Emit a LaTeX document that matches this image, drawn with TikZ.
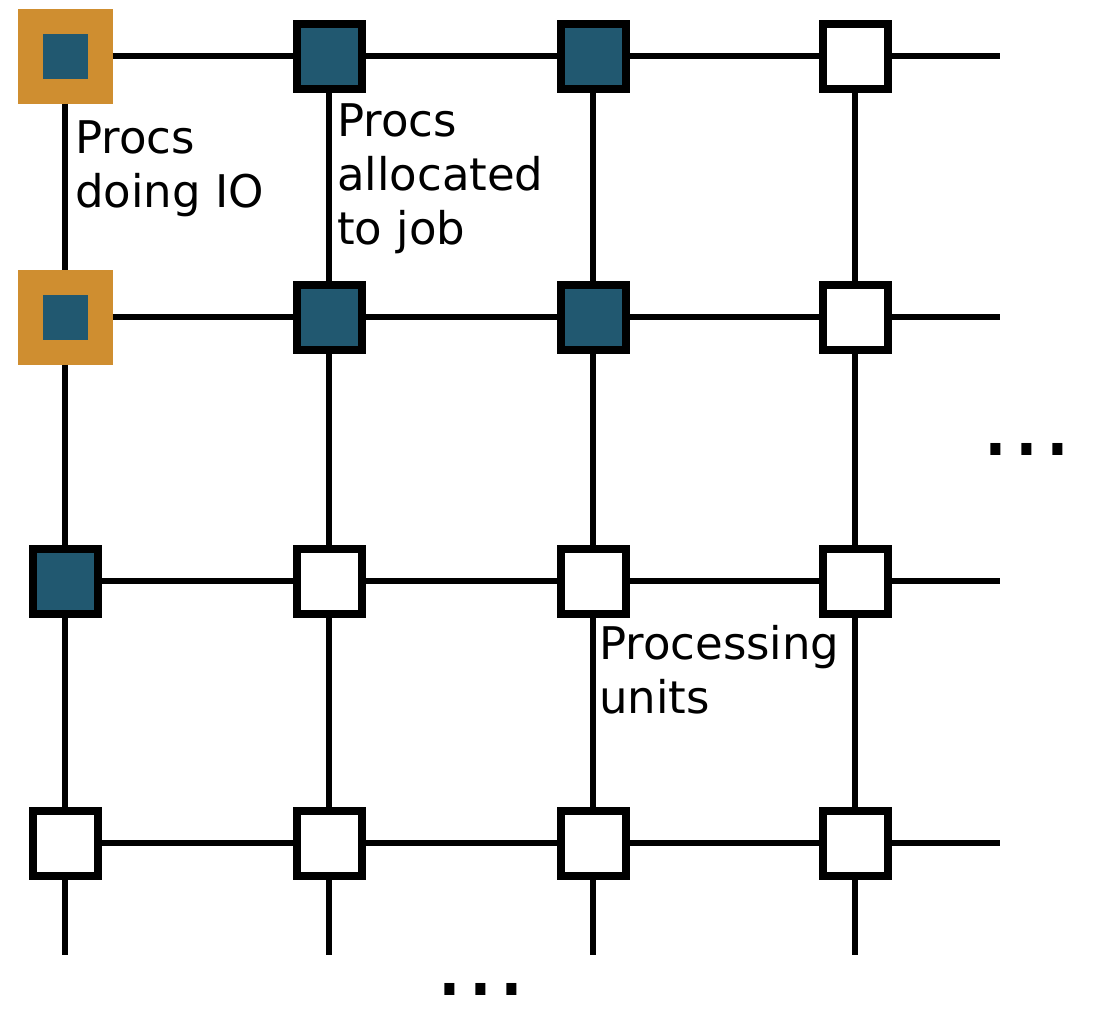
\documentclass[tikz,border=0pt]{standalone}
\usepackage{fontspec}
\setmainfont{DejaVu Sans}
\definecolor{jobblue}{HTML}{215870}
\definecolor{ioorange}{HTML}{CF8E30}
\tikzset{
  proc/.style={rectangle, minimum size=65pt, inner sep=0pt, line width=8pt, draw=black},
  freeproc/.style={proc, fill=white},
  jobproc/.style={proc, fill=jobblue},
  ioproc/.style={rectangle, minimum size=70pt, inner sep=0pt, line width=25pt, draw=ioorange, fill=jobblue},
  link/.style={line width=6pt, draw=black},
  lbl/.style={anchor=north west, inner sep=0pt, align=left, font=\fontsize{45}{54}\selectfont},
  dots/.style={anchor=base west, inner sep=0pt, font=\fontsize{97}{110}\selectfont}
}
\begin{document}
\begin{tikzpicture}[x=1pt,y=-1pt]
\useasboundingbox (0,0) rectangle (1101,1020);
% grid positions
\def\ca{65}\def\cb{329}\def\cc{593}\def\cd{855}
\def\ra{56}\def\rb{317}\def\rc{581}\def\rd{843}
% nodes
\node[ioproc]   (n11) at (\ca,\ra) {};
\node[jobproc]  (n12) at (\cb,\ra) {};
\node[jobproc]  (n13) at (\cc,\ra) {};
\node[freeproc] (n14) at (\cd,\ra) {};
\node[ioproc]   (n21) at (\ca,\rb) {};
\node[jobproc]  (n22) at (\cb,\rb) {};
\node[jobproc]  (n23) at (\cc,\rb) {};
\node[freeproc] (n24) at (\cd,\rb) {};
\node[jobproc]  (n31) at (\ca,\rc) {};
\node[freeproc] (n32) at (\cb,\rc) {};
\node[freeproc] (n33) at (\cc,\rc) {};
\node[freeproc] (n34) at (\cd,\rc) {};
\node[freeproc] (n41) at (\ca,\rd) {};
\node[freeproc] (n42) at (\cb,\rd) {};
\node[freeproc] (n43) at (\cc,\rd) {};
\node[freeproc] (n44) at (\cd,\rd) {};
% free ends
\foreach \r/\y in {1/\ra,2/\rb,3/\rc,4/\rd} \coordinate (e\r) at (1000,\y);
\foreach \c/\x in {1/\ca,2/\cb,3/\cc,4/\cd} \coordinate (b\c) at (\x,955);
% links
\foreach \r in {1,2,3,4}{
  \draw[link] (n\r1) -- (n\r2);
  \draw[link] (n\r2) -- (n\r3);
  \draw[link] (n\r3) -- (n\r4);
  \draw[link] (n\r4) -- (e\r);
}
\foreach \c in {1,2,3,4}{
  \draw[link] (n1\c) -- (n2\c);
  \draw[link] (n2\c) -- (n3\c);
  \draw[link] (n3\c) -- (n4\c);
  \draw[link] (n4\c) -- (b\c);
}
% labels
\node[lbl] (tio) at (75,120) {Procs\\doing IO};
\node[lbl] (tjob) at (337,103) {Procs\\allocated\\to job};
\node[lbl] (tpu) at (599,625) {Processing\\units};
\node[dots] (dr) at (980.6,455) {...};
\node[dots] (db) at (434.6,995) {...};
\end{tikzpicture}
\end{document}
